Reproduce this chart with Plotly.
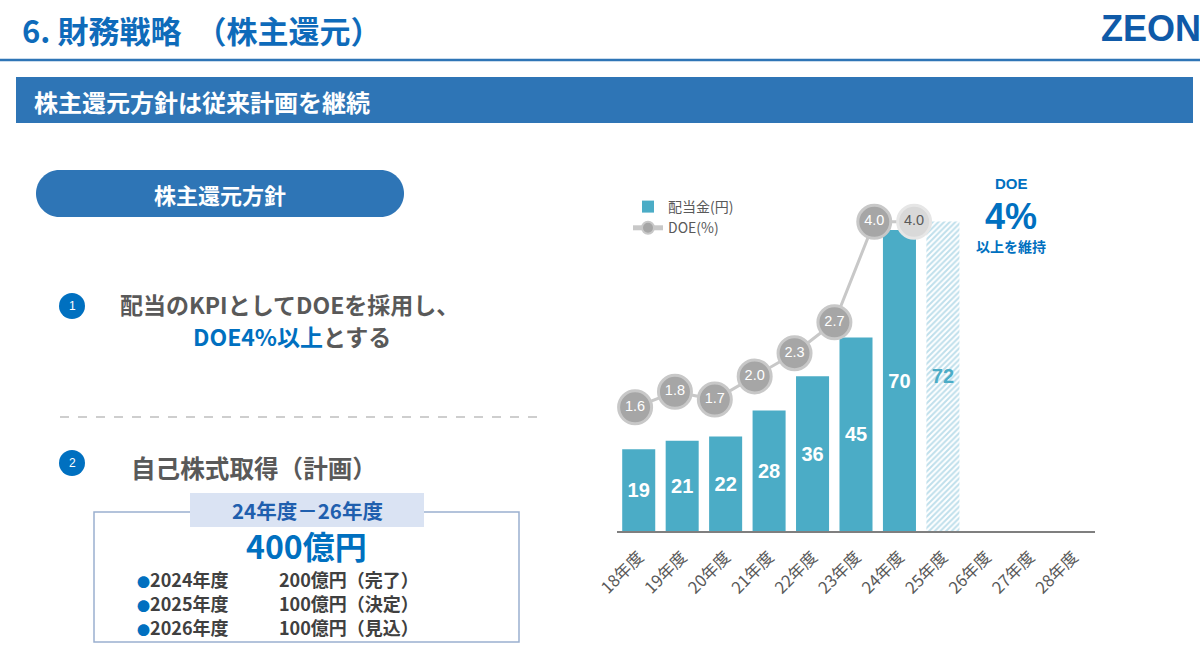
import plotly.graph_objects as go

# ---------------- data ----------------
categories = ["18年度", "19年度", "20年度", "21年度", "22年度", "23年度",
              "24年度", "25年度", "26年度", "27年度", "28年度"]
dividends = [19, 21, 22, 28, 36, 45, 70, 72, None, None, None]   # 配当金(円)
doe_categories = ["18年度", "19年度", "20年度", "21年度", "22年度", "23年度",
                  "24年度", "25年度"]
doe_values = [1.6, 1.8, 1.7, 2.0, 2.3, 2.7, 4.0, 4.0]            # DOE(%)
plan_year = "25年度"

buyback_years = ["2024年度", "2025年度", "2026年度"]
buyback_amounts = ["200億円（完了）", "100億円（決定）", "100億円（見込）"]

# ---------------- helpers ----------------
W, H = 1200, 654
def px(x):
    return x / W
def py(y):
    return 1 - y / H

TEAL = "#4bacc6"
HATCH = "#7fc0d8"
BLUE = "#0070c0"
BANNER = "#2e75b6"
GRAY_TXT = "#595959"
JP = "Noto Sans CJK JP"
AR = "Arial, Liberation Sans"

is_plan = [c == plan_year for c in categories]
actual_vals = [None if p else v for v, p in zip(dividends, is_plan)]
plan_vals = [v if p else None for v, p in zip(dividends, is_plan)]
fmt = lambda vals: ["" if v is None else str(v) for v in vals]

doe_plan = [c == plan_year for c in doe_categories]
doe_fill = ["#d9d9d9" if p else "#a6a6a6" for p in doe_plan]
doe_border = ["#e6e6e6" if p else "#c8c8c8" for p in doe_plan]
doe_txt_col = [GRAY_TXT if p else "white" for p in doe_plan]

fig = go.Figure()

fig.add_trace(go.Bar(
    x=categories, y=actual_vals, name="配当金(円)",
    marker=dict(color=TEAL, line=dict(width=0)),
    text=fmt(actual_vals), textposition="inside", insidetextanchor="middle",
    textangle=0, constraintext="none",
    textfont=dict(family=AR, size=20, color="white", weight="bold"),
    hoverinfo="skip",
))

fig.add_trace(go.Bar(
    x=categories, y=plan_vals, name="配当金(円) 計画", showlegend=False,
    marker=dict(color="white", line=dict(width=0),
                pattern=dict(shape="/", fgcolor=HATCH, bgcolor="white",
                             size=4, solidity=0.5)),
    text=fmt(plan_vals), textposition="inside", insidetextanchor="middle",
    textangle=0, constraintext="none",
    textfont=dict(family=AR, size=20, color=TEAL, weight="bold"),
    hoverinfo="skip",
))

fig.add_trace(go.Scatter(
    x=doe_categories, y=doe_values, name="DOE(%)",
    xaxis="x2", yaxis="y2", mode="lines+markers",
    line=dict(color="#c8c8c8", width=3),
    marker=dict(size=33, color=doe_fill, line=dict(color=doe_border, width=3)),
    hoverinfo="skip",
))

fig.add_trace(go.Scatter(
    x=doe_categories, y=doe_values, xaxis="x2", yaxis="y2", mode="text",
    text=[f"{v:.1f}" for v in doe_values], textposition="middle center",
    textfont=dict(family=AR, size=14.5, color=doe_txt_col),
    showlegend=False, hoverinfo="skip",
))

x_dom = [px(617), px(1095)]
y_dom = [py(531), py(187)]

fig.update_layout(
    width=W, height=H, autosize=False,
    margin=dict(l=0, r=0, t=0, b=0, pad=0, autoexpand=False),
    paper_bgcolor="white", plot_bgcolor="rgba(0,0,0,0)",
    barmode="overlay", bargap=0.24,
    xaxis=dict(domain=x_dom, type="category", categoryorder="array",
               categoryarray=categories, range=[-0.5, 10.5], automargin=False,
               showline=True, linecolor="#7f7f7f", linewidth=2,
               showgrid=False, zeroline=False, ticks="", ticklabelstandoff=8,
               tickangle=-45, tickfont=dict(family=JP, size=16.5, color=GRAY_TXT)),
    yaxis=dict(domain=y_dom, range=[0, 80], visible=False, automargin=False),
    xaxis2=dict(overlaying="x", type="category", categoryorder="array",
                categoryarray=categories, range=[-0.454, 11.538],
                visible=False, anchor="y2", automargin=False),
    yaxis2=dict(overlaying="y", range=[0, 4.45], visible=False, anchor="x2",
                automargin=False),
    legend=dict(x=px(628), y=py(191), xanchor="left", yanchor="top",
                font=dict(family=JP, size=14, color=GRAY_TXT),
                bgcolor="rgba(0,0,0,0)", itemsizing="constant",
                tracegroupgap=0, traceorder="normal"),
    showlegend=True,
)

shapes = []
annotations = []

def ann(x, y, text, size, color, xanchor="left", bold=True, family=JP):
    annotations.append(dict(
        x=px(x), y=py(y), xref="paper", yref="paper", text=text,
        showarrow=False, xanchor=xanchor, yanchor="middle", align="center",
        font=dict(family=family, size=size, color=color,
                  weight="bold" if bold else "normal")))

def rect(x0, y0, x1, y1, fill=None, line=None, lw=0):
    shapes.append(dict(type="rect", xref="paper", yref="paper",
                       x0=px(x0), x1=px(x1), y0=py(y1), y1=py(y0),
                       fillcolor=fill if fill else "rgba(0,0,0,0)",
                       line=dict(color=line if line else "rgba(0,0,0,0)", width=lw),
                       layer="below"))

def pill(x0, y0, x1, y1, fill):
    r = (y1 - y0) / 2
    k = 0.5523 * r
    pts = [
        ("M", [(x0 + r, y0)]),
        ("L", [(x1 - r, y0)]),
        ("C", [(x1 - r + k, y0), (x1, y0 + r - k), (x1, y0 + r)]),
        ("C", [(x1, y0 + r + k), (x1 - r + k, y1), (x1 - r, y1)]),
        ("L", [(x0 + r, y1)]),
        ("C", [(x0 + r - k, y1), (x0, y0 + r + k), (x0, y0 + r)]),
        ("C", [(x0, y0 + r - k), (x0 + r - k, y0), (x0 + r, y0)]),
    ]
    path = ""
    for cmd, ps in pts:
        path += cmd + " ".join(f"{px(a):.5f},{py(b):.5f}" for a, b in ps) + " "
    path += "Z"
    shapes.append(dict(type="path", xref="paper", yref="paper", path=path,
                       fillcolor=fill, line=dict(width=0), layer="below"))

def circle(cx, cy, r, fill):
    shapes.append(dict(type="circle", xref="paper", yref="paper",
                       x0=px(cx - r), x1=px(cx + r), y0=py(cy + r), y1=py(cy - r),
                       fillcolor=fill, line=dict(width=0), layer="below"))

# header
ann(20, 30, "6. 財務戦略\u00a0 （株主還元）", 31, "#0e6bba")
ann(1099, 28, "ZEON", 36, "#0f5aa8", family=AR)
shapes.append(dict(type="line", xref="paper", yref="paper", x0=0, x1=1,
                   y0=py(60), y1=py(60), line=dict(color=BANNER, width=2.5)))
rect(16, 77, 1193, 123, fill=BANNER)
ann(32, 101, "株主還元方針は従来計画を継続", 24, "white")

# policy pill
pill(36, 170, 404, 217, BANNER)
ann(220, 194, "株主還元方針", 22, "white", xanchor="center")

# item 1
circle(72, 306, 13, BLUE)
ann(72, 306, "1", 12, "white", xanchor="center", bold=False, family=AR)
ann(289, 304, "配当のKPIとしてDOEを採用し、", 23, GRAY_TXT, xanchor="center")
ann(292, 336, f"<span style='color:{BLUE}'>DOE4%以上</span>とする", 23, GRAY_TXT,
    xanchor="center")
shapes.append(dict(type="line", xref="paper", yref="paper", x0=px(60), x1=px(538),
                   y0=py(417), y1=py(417),
                   line=dict(color="#bfbfbf", width=1.5, dash="dash")))

# item 2
circle(72, 463, 13, BLUE)
ann(72, 463, "2", 12, "white", xanchor="center", bold=False, family=AR)
ann(129, 467, "自己株式取得（計画）", 24.6, GRAY_TXT)
rect(94, 512, 519, 642, line="#9bb0cf", lw=1.5)
rect(190, 493, 424, 527, fill="#dae3f3")
ann(307, 510, "24年度－26年度", 20.5, "#1f5fae", xanchor="center")
ann(306, 545, "400億円", 32, BLUE, xanchor="center")
for i, (yr, amt) in enumerate(zip(buyback_years, buyback_amounts)):
    yy = 579 + 24 * i
    ann(135, yy, f"<span style='color:{BLUE};font-size:13px'>●</span>{yr}", 18, "#404040")
    ann(277, yy, amt, 18, "#404040")

# DOE target note
ann(1011, 184, "DOE", 15, BLUE, xanchor="center", family=AR)
ann(1011, 216, "4%", 36, BLUE, xanchor="center", family=AR)
ann(1011, 246, "以上を維持", 14, BLUE, xanchor="center")

fig.update_layout(shapes=shapes, annotations=annotations)

fig.write_html("out.html", config={"displayModeBar": False},
               post_script="document.body.style.margin='0';document.body.style.overflow='hidden';")
